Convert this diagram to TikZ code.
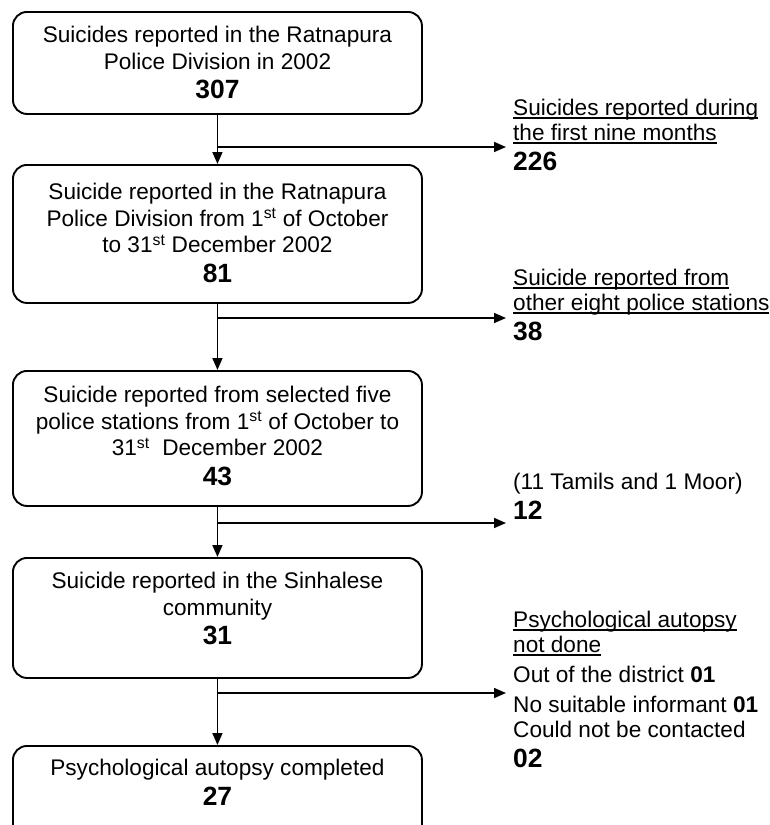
\documentclass[tikz,border=0pt]{standalone}
\usepackage{fontspec}
\setmainfont{Liberation Sans}
\usetikzlibrary{shapes,arrows,arrows.meta}
\usetikzlibrary{positioning}

\newcommand{\ulline}[1]{\setbox0=\hbox{#1}\rlap{\rule[-3pt]{\wd0}{1.3pt}}\box0}
\newcommand{\numbig}[1]{{\fontsize{26.4}{26.5}\selectfont\bfseries #1}}

\tikzset{
  flowbox/.style={draw,line width=1.9pt,rounded corners=14pt,minimum width=409pt,anchor=north west,inner sep=0pt},
  boxtext/.style={align=center,inner sep=0pt,font=\fontsize{22.6}{26.5}\selectfont},
  sidetext/.style={align=left,inner sep=0pt,anchor=north west,font=\fontsize{22.6}{25}\selectfont},
  arr/.style={line width=1.6pt,-{Triangle[length=12pt,width=10pt]}},
}

\begin{document}
\begin{tikzpicture}[x=1pt,y=-1pt]
\useasboundingbox (0,0) rectangle (770,825);
\clip (0,0) rectangle (770,825);

% boxes down the left
\node[flowbox,minimum height=102pt] (b1) at (12,11) {};
\node[flowbox,minimum height=138pt] (b2) at (12,164) {};
\node[flowbox,minimum height=135pt] (b3) at (12,370) {};
\node[flowbox,minimum height=120pt] (b4) at (12,557) {};
\node[flowbox,minimum height=110pt] (b5) at (12,745) {};

\node[boxtext,below=15pt of b1.north] (t1) {Suicides reported in the Ratnapura\\Police Division in 2002\\[3pt]\numbig{307}};
\node[boxtext,below=19pt of b2.north] (t2) {Suicide reported in the Ratnapura\\Police Division from 1\textsuperscript{st} of October\\to 31\textsuperscript{st} December 2002\\[3pt]\numbig{81}};
\node[boxtext,below=16pt of b3.north] (t3) {Suicide reported from selected five\\police stations from 1\textsuperscript{st} of October to\\31\textsuperscript{st}~ December 2002\\[3pt]\numbig{43}};
\node[boxtext,below=15pt of b4.north] (t4) {Suicide reported in the Sinhalese\\community\\[3pt]\numbig{31}};
\node[boxtext,below=14pt of b5.north] (t5) {Psychological autopsy completed\\[3pt]\numbig{27}};

% texts on the right
\node[sidetext] (s1) at (513,99) {\ulline{Suicides reported during}\\\ulline{the first nine months}\\[5pt]\numbig{226}};
\node[sidetext] (s2) at (513,269) {\ulline{Suicide reported from}\\\ulline{other eight police stations}\\[5pt]\numbig{38}};
\node[sidetext] (s3) at (513,473) {(11 Tamils and 1 Moor)\\[5pt]\numbig{12}};
\node[sidetext] (s4) at (513,611) {\ulline{Psychological autopsy}\\\ulline{not done}\\[5pt]Out of the district \textbf{01}\\[5pt]No suitable informant \textbf{01}\\Could not be contacted\\[5pt]\numbig{02}};

\coordinate (j1) at (217,147);
\coordinate (j2) at (217,318);
\coordinate (j3) at (217,523);
\coordinate (j4) at (217,693);

\draw[arr] (b1.south) -- (b2.north);
\draw[arr] (b2.south) -- (b3.north);
\draw[arr] (b3.south) -- (b4.north);
\draw[arr] (b4.south) -- (b5.north);

\draw[arr,shorten >=7pt] (j1) -- (s1.west |- j1);
\draw[arr,shorten >=7pt] (j2) -- (s2.west |- j2);
\draw[arr,shorten >=7pt] (j3) -- (s3.west |- j3);
\draw[arr,shorten >=7pt] (j4) -- (s4.west |- j4);

\end{tikzpicture}
\end{document}
